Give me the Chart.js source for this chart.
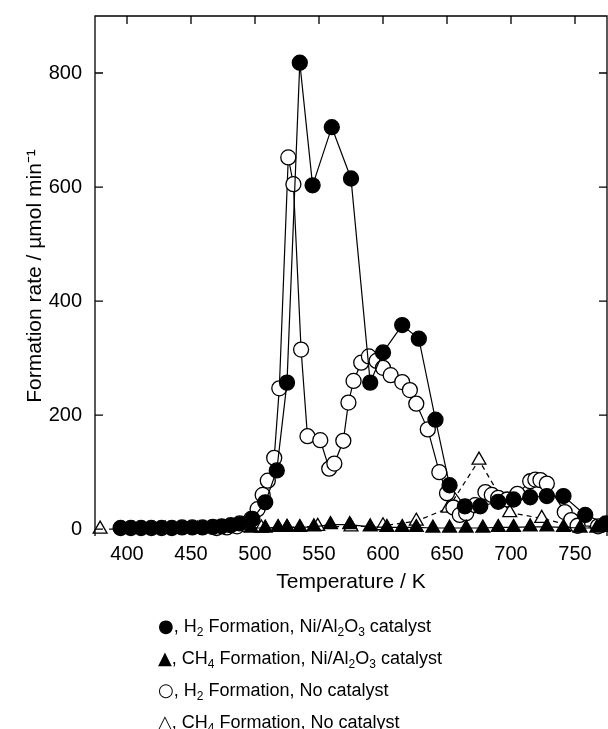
<!DOCTYPE html>
<html lang="en">
<head>
    <meta charset="UTF-8">
    <title>Formation rate vs temperature</title>
    <script src="https://cdn.jsdelivr.net/npm/chart.js"></script>
    <style>
        body { margin: 0; background: #fff; }
        #wrap { position: relative; width: 608px; height: 729px; overflow: hidden; }
        #rateChart { position: absolute; left: 0; top: 0; }
        #legend {
            position: absolute; left: 158px; top: 610px;
            font-family: "Liberation Sans", Arial, sans-serif;
            font-size: 18px; line-height: 32px; color: #000;
        }
        #legend div { height: 32px; }
        #legend sub { font-size: 12px; vertical-align: -4px; line-height: 0; }
        #legend .sym { font-family: "DejaVu Sans", sans-serif; font-size: 18px; }
    </style>
</head>
<body>
<div id="wrap">
    <canvas id="rateChart" width="608" height="729"></canvas>
    <div id="legend">
        <div><span class="sym">●</span>, H<sub>2</sub> Formation, Ni/Al<sub>2</sub>O<sub>3</sub> catalyst</div>
        <div><span class="sym">▲</span>, CH<sub>4</sub> Formation, Ni/Al<sub>2</sub>O<sub>3</sub> catalyst</div>
        <div><span class="sym">○</span>, H<sub>2</sub> Formation, No catalyst</div>
        <div><span class="sym">△</span>, CH<sub>4</sub> Formation, No catalyst</div>
    </div>
</div>

<script>
    // temperature (K) and formation rate
    const h2CatTemp = [395, 403, 411, 419, 427, 435, 443, 451, 459, 467, 474, 481, 488, 498, 508, 517, 525,
        535, 545, 560, 575, 590, 600, 615, 628, 641, 652, 664, 676, 690, 702, 715, 728, 741, 758, 774];
    const h2CatRate = [2, 2, 2, 2, 2, 2, 3, 3, 3, 4, 5, 7, 10, 18, 47, 103, 257,
        818, 603, 705, 615, 257, 310, 358, 334, 192, 77, 40, 40, 48, 52, 56, 58, 58, 25, 10];

    const ch4CatTemp = [497, 508, 518, 525, 535, 546, 559, 574, 590, 603, 615, 626, 639, 652, 665, 678,
        690, 702, 715, 728, 741, 754, 767];
    const ch4CatRate = [2, 2, 3, 3, 3, 4, 8, 8, 4, 3, 3, 3, 2, 2, 2, 2,
        3, 3, 4, 4, 3, 2, 2];

    const h2NoneTemp = [470, 478, 486, 492, 497, 502, 506, 510, 515, 519, 526, 530, 536, 541, 551, 558, 562,
        569, 573, 577, 583, 589, 595, 600, 606, 615, 621, 626, 635, 644, 650, 655, 660, 665, 672, 680, 685,
        690, 697, 705, 715, 719, 723, 728, 742, 747, 752, 768];
    const h2NoneRate = [2, 3, 5, 9, 18, 35, 60, 85, 125, 247, 652, 605, 315, 163, 156, 106, 115,
        155, 222, 260, 292, 303, 295, 283, 270, 258, 244, 220, 175, 100, 63, 38, 25, 28, 42, 65, 60,
        55, 52, 62, 84, 87, 86, 80, 30, 16, 6, 5];

    const ch4NoneTemp = [379, 405, 430, 455, 480, 505, 525, 549, 575, 600, 626, 651, 675, 699, 724, 749, 774];
    const ch4NoneRate = [0, 0, 0, 0, 1, 2, 3, 5, 4, 6, 14, 37, 121, 29, 19, 5, 3];

    const xTickValues = [400, 450, 500, 550, 600, 650, 700, 750];
    const yTickValues = [0, 200, 400, 600, 800];

    const toPoints = (xs, ys) => xs.map((x, i) => ({ x: x, y: ys[i] }));

    const tickFont = { family: '"Liberation Sans", Arial, sans-serif', size: 20 };
    const titleFont = { family: '"Liberation Sans", Arial, sans-serif', size: 21 };

    // frame + inward tick marks on top, left and right
    const frameTicks = {
        id: 'frameTicks',
        afterDraw(chart) {
            const c = chart.ctx;
            const a = chart.chartArea;
            const xs = chart.scales.x, ys = chart.scales.y;
            c.save();
            c.strokeStyle = '#000';
            c.lineWidth = 1.3;
            c.beginPath();
            c.moveTo(a.left, a.bottom);
            c.lineTo(a.left, a.top);
            c.lineTo(a.right, a.top);
            c.lineTo(a.right, a.bottom);
            xTickValues.forEach(v => {
                const px = xs.getPixelForValue(v);
                c.moveTo(px, a.top);
                c.lineTo(px, a.top + 8);
            });
            yTickValues.forEach(v => {
                const py = ys.getPixelForValue(v);
                c.moveTo(a.left, py);
                c.lineTo(a.left + 8, py);
                c.moveTo(a.right, py);
                c.lineTo(a.right - 8, py);
            });
            c.stroke();
            c.restore();
        }
    };

    const ctx = document.getElementById('rateChart').getContext('2d');
    new Chart(ctx, {
        type: 'scatter',
        data: {
            datasets: [
                {
                    label: 'H2 Formation, Ni/Al2O3 catalyst',
                    data: toPoints(h2CatTemp, h2CatRate),
                    showLine: true,
                    borderColor: '#000',
                    borderWidth: 1.2,
                    backgroundColor: '#000',
                    pointStyle: 'circle',
                    pointRadius: 7.5,
                    pointBorderWidth: 1.3,
                    pointBorderColor: '#000',
                    pointBackgroundColor: '#000',
                    clip: false
                },
                {
                    label: 'CH4 Formation, Ni/Al2O3 catalyst',
                    data: toPoints(ch4CatTemp, ch4CatRate),
                    showLine: true,
                    borderColor: '#000',
                    borderWidth: 1.2,
                    pointStyle: 'triangle',
                    pointRadius: 8,
                    pointBorderWidth: 1.3,
                    pointBorderColor: '#000',
                    pointBackgroundColor: '#000',
                    clip: false
                },
                {
                    label: 'H2 Formation, No catalyst',
                    data: toPoints(h2NoneTemp, h2NoneRate),
                    showLine: true,
                    borderColor: '#000',
                    borderWidth: 1.2,
                    pointStyle: 'circle',
                    pointRadius: 7.5,
                    pointBorderWidth: 1.3,
                    pointBorderColor: '#000',
                    pointBackgroundColor: '#fff',
                    clip: false
                },
                {
                    label: 'CH4 Formation, No catalyst',
                    data: toPoints(ch4NoneTemp, ch4NoneRate),
                    showLine: true,
                    borderColor: '#000',
                    borderWidth: 1.2,
                    borderDash: [5, 4],
                    pointStyle: 'triangle',
                    pointRadius: 8,
                    pointBorderWidth: 1.3,
                    pointBorderColor: '#000',
                    pointBackgroundColor: '#fff',
                    clip: false
                }
            ]
        },
        options: {
            responsive: false,
            animation: false,
            layout: { autoPadding: false, padding: { top: 16, right: 1, bottom: 133, left: 0 } },
            plugins: {
                legend: { display: false },
                tooltip: { enabled: false }
            },
            scales: {
                x: {
                    type: 'linear',
                    min: 375,
                    max: 775,
                    afterBuildTicks: s => { s.ticks = xTickValues.map(v => ({ value: v })); },
                    afterFit: s => { s.height = 60; s.paddingLeft = 0; s.paddingRight = 0; },
                    grid: { display: false, drawTicks: false },
                    border: { display: false },
                    ticks: { padding: 6, color: '#000', font: tickFont, maxRotation: 0 },
                    title: { display: true, text: 'Temperature / K', color: '#000', font: titleFont, padding: { top: 4, bottom: 1 } }
                },
                y: {
                    type: 'linear',
                    min: -12,
                    max: 900,
                    afterBuildTicks: s => { s.ticks = yTickValues.map(v => ({ value: v })); },
                    afterFit: s => { s.width = 95; s.paddingTop = 0; s.paddingBottom = 0; },
                    grid: { display: false, drawTicks: false },
                    border: { display: false },
                    ticks: { padding: 13, color: '#000', font: tickFont },
                    title: { display: true, text: 'Formation rate / µmol min⁻¹', color: '#000', font: titleFont, padding: { top: 23, bottom: 4 } }
                }
            }
        },
        plugins: [frameTicks]
    });
</script>
</body>
</html>
